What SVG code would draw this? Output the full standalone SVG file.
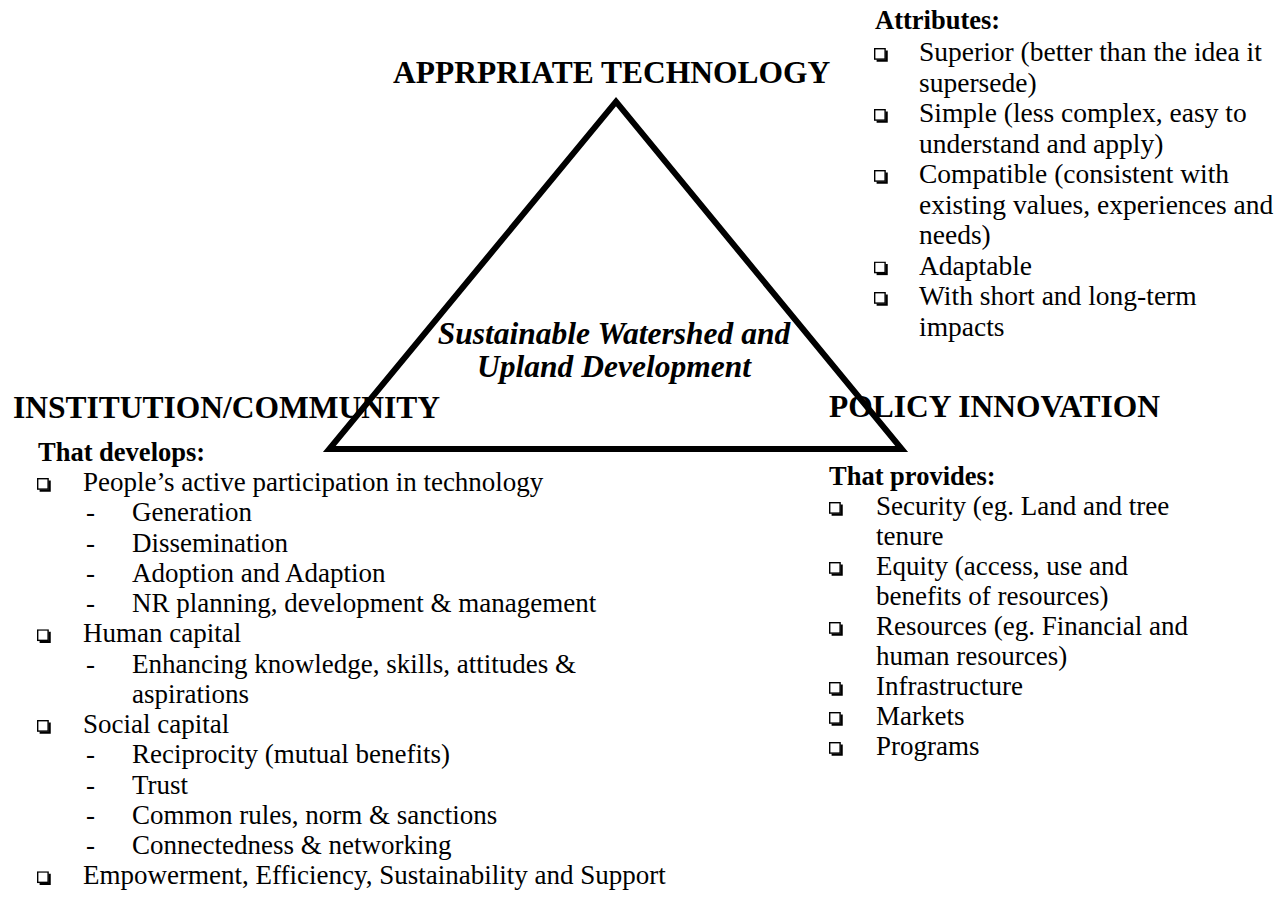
<svg xmlns="http://www.w3.org/2000/svg" xmlns:xlink="http://www.w3.org/1999/xlink" width="1277" height="897" viewBox="0 0 1277 897">
  <style>
    text { fill: #000; font-family: "Liberation Serif", "Times New Roman", serif; }
    .head { font-size: 31.5px; font-weight: bold; }
    .sub { font-size: 26.5px; font-weight: bold; }
    .item { font-size: 27px; }
    .attr { font-size: 27.5px; }
    .core { font-size: 31.5px; font-weight: bold; font-style: italic; text-anchor: middle; }
    .edge { fill: none; stroke: #000; stroke-width: 6; stroke-linejoin: miter; stroke-miterlimit: 10; }
  </style>
  <defs>
    <!-- shadowed square bullet -->
    <symbol id="box" viewBox="0 0 14 14" width="14" height="14">
      <rect x="0.7" y="0.7" width="10.4" height="10.4" fill="#fff" stroke="#000" stroke-width="1.4"/>
      <path d="M12.6 2.6 V12.6 H2.6" fill="none" stroke="#000" stroke-width="2.3"/>
    </symbol>
  </defs>
  <rect width="1277" height="897" fill="#fff"/>

  <!-- triangle linking the three pillars -->
  <g id="connectors">
    <polygon class="edge" points="616,101.7 901.7,449 329.3,449"/>
  </g>

  <!-- centre goal -->
  <g id="node-goal">
    <text class="core" x="614" y="344">Sustainable Watershed and</text>
    <text class="core" x="614" y="377">Upland Development</text>
  </g>

  <!-- top pillar -->
  <g id="node-technology">
    <text class="head" x="393" y="83">APPRPRIATE TECHNOLOGY</text>
    <text class="sub" x="875" y="29">Attributes:</text>
    <use xlink:href="#box" x="874" y="48"/>
    <text class="attr" x="919" y="61">Superior (better than the idea it</text>
    <text class="attr" x="919" y="91.5">supersede)</text>
    <use xlink:href="#box" x="874" y="109"/>
    <text class="attr" x="919" y="122">Simple (less complex, easy to</text>
    <text class="attr" x="919" y="152.5">understand and apply)</text>
    <use xlink:href="#box" x="874" y="170"/>
    <text class="attr" x="919" y="183">Compatible (consistent with</text>
    <text class="attr" x="919" y="213.5">existing values, experiences and</text>
    <text class="attr" x="919" y="244">needs)</text>
    <use xlink:href="#box" x="874" y="261.5"/>
    <text class="attr" x="919" y="274.5">Adaptable</text>
    <use xlink:href="#box" x="874" y="292"/>
    <text class="attr" x="919" y="305">With short and long-term</text>
    <text class="attr" x="919" y="335.5">impacts</text>
  </g>

  <!-- left pillar -->
  <g id="node-institution">
    <text class="head" x="13" y="418">INSTITUTION/COMMUNITY</text>
    <text class="sub" x="38" y="461">That develops:</text>
    <use xlink:href="#box" x="37" y="478"/>
    <text class="item" x="83" y="491">People’s active participation in technology</text>
    <text class="item" x="86" y="521.25">-</text>
    <text class="item" x="132" y="521.25">Generation</text>
    <text class="item" x="86" y="551.5">-</text>
    <text class="item" x="132" y="551.5">Dissemination</text>
    <text class="item" x="86" y="581.75">-</text>
    <text class="item" x="132" y="581.75">Adoption and Adaption</text>
    <text class="item" x="86" y="612">-</text>
    <text class="item" x="132" y="612">NR planning, development &amp; management</text>
    <use xlink:href="#box" x="37" y="629.25"/>
    <text class="item" x="83" y="642.25">Human capital</text>
    <text class="item" x="86" y="672.5">-</text>
    <text class="item" x="132" y="672.5">Enhancing knowledge, skills, attitudes &amp;</text>
    <text class="item" x="132" y="702.75">aspirations</text>
    <use xlink:href="#box" x="37" y="720"/>
    <text class="item" x="83" y="733">Social capital</text>
    <text class="item" x="86" y="763.25">-</text>
    <text class="item" x="132" y="763.25">Reciprocity (mutual benefits)</text>
    <text class="item" x="86" y="793.5">-</text>
    <text class="item" x="132" y="793.5">Trust</text>
    <text class="item" x="86" y="823.75">-</text>
    <text class="item" x="132" y="823.75">Common rules, norm &amp; sanctions</text>
    <text class="item" x="86" y="854">-</text>
    <text class="item" x="132" y="854">Connectedness &amp; networking</text>
    <use xlink:href="#box" x="37" y="871.25"/>
    <text class="item" x="83" y="884.25">Empowerment, Efficiency, Sustainability and Support</text>
  </g>

  <!-- right pillar -->
  <g id="node-policy">
    <text class="head" x="829" y="417">POLICY INNOVATION</text>
    <text class="sub" x="829" y="485">That provides:</text>
    <use xlink:href="#box" x="829" y="502"/>
    <text class="item" x="876" y="515">Security (eg. Land and tree</text>
    <text class="item" x="876" y="545">tenure</text>
    <use xlink:href="#box" x="829" y="562"/>
    <text class="item" x="876" y="575">Equity (access, use and</text>
    <text class="item" x="876" y="605">benefits of resources)</text>
    <use xlink:href="#box" x="829" y="622"/>
    <text class="item" x="876" y="635">Resources (eg. Financial and</text>
    <text class="item" x="876" y="665">human resources)</text>
    <use xlink:href="#box" x="829" y="682"/>
    <text class="item" x="876" y="695">Infrastructure</text>
    <use xlink:href="#box" x="829" y="712"/>
    <text class="item" x="876" y="725">Markets</text>
    <use xlink:href="#box" x="829" y="742"/>
    <text class="item" x="876" y="755">Programs</text>
  </g>
</svg>
